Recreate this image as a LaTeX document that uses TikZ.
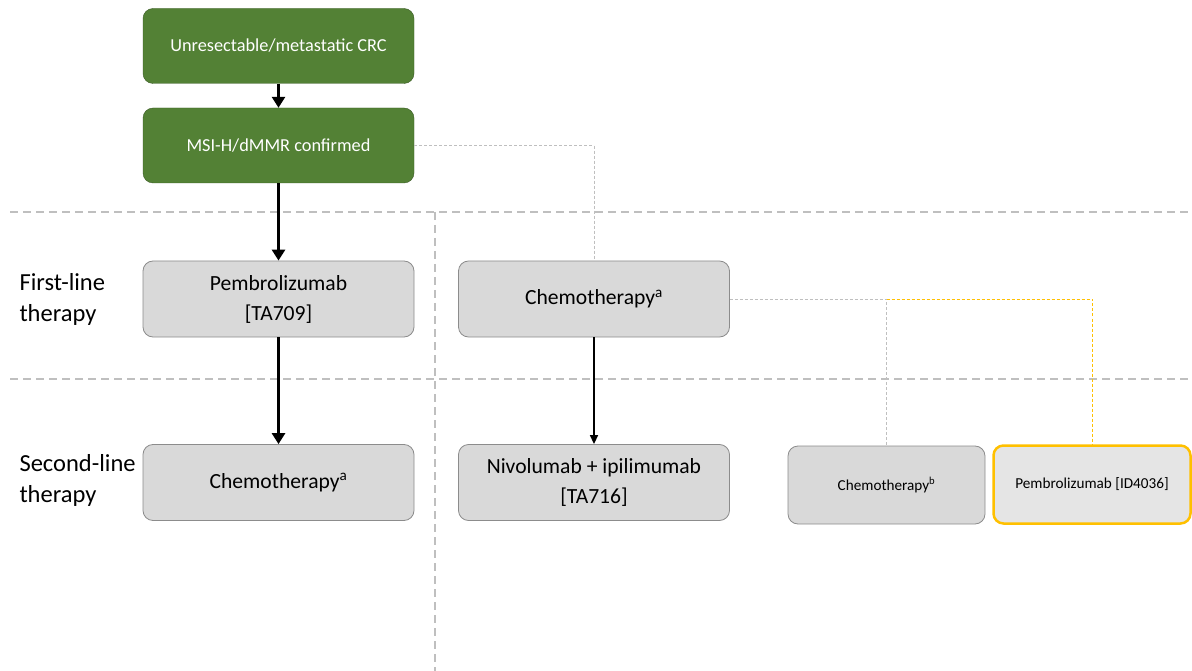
\documentclass[tikz,border=0pt]{standalone}
\usepackage{fontspec}
\setmainfont{Carlito}
\usetikzlibrary{arrows.meta,positioning}
\definecolor{crcgreen}{HTML}{538135}
\definecolor{boxgray}{HTML}{D9D9D9}
\definecolor{boxedge}{HTML}{8C8C8C}
\definecolor{lightline}{HTML}{BFBFBF}
\definecolor{ambre}{HTML}{FFC000}
\begin{document}
\begin{tikzpicture}[x=1pt,y=-1pt,
    greenbox/.style={draw=crcgreen!70!black,fill=crcgreen,rounded corners=10pt,
        minimum width=271pt,minimum height=75pt,text=white,font=\fontsize{18.3}{22}\selectfont},
    graybox/.style={draw=boxedge,fill=boxgray,rounded corners=10pt,line width=0.8pt,
        minimum width=271pt,minimum height=76pt,align=center,font=\fontsize{21.6}{30}\selectfont},
    smallbox/.style={draw=boxedge,fill=boxgray,rounded corners=10pt,line width=0.8pt,
        minimum width=197pt,minimum height=78pt,font=\fontsize{15.2}{18}\selectfont},
    linelabel/.style={anchor=west,align=left,font=\fontsize{24.5}{31}\selectfont},
    bigarrow/.style={-{Triangle[length=11pt,width=13pt]},line width=3.5pt},
    thinarrow/.style={-{Triangle[length=9pt,width=8pt]},line width=1.5pt},
    divider/.style={lightline,line width=1.5pt,dash pattern=on 8pt off 5pt},
    link/.style={lightline,line width=1pt,dash pattern=on 3pt off 2pt}]

\useasboundingbox (0,0) rectangle (1192,671);

% row dividers
\draw[divider](10,212) -- (1192,212);
\draw[divider](10,379) -- (1192,379);
\draw[divider](435,212) -- (435,671);

% left labels
\node[linelabel] (first) at (16,299) {First-line\\therapy};
\node[linelabel] (second) at (16,480) {Second-line\\therapy};

% green boxes
\node[greenbox] (crc) at (278.5,46) {Unresectable/metastatic CRC};
\node[greenbox] (msi) at (278.5,145.5) {MSI-H/dMMR confirmed};

% grey boxes
\node[graybox] (pembro) at (278.5,299) {Pembrolizumab\\{[TA709]}};
\node[graybox] (chemoA) at (278.5,482.5) {Chemotherapy\textsuperscript{a}};
\node[graybox] (chemoB) at (594,299) {Chemotherapy\textsuperscript{a}};
\node[graybox] (nivo) at (594,482.5) {Nivolumab + ipilimumab\\{[TA716]}};
\node[smallbox] (chemoC) at (886.5,485) {Chemotherapy\textsuperscript{b}};
\node[smallbox,draw=ambre,line width=2.5pt,fill=black!10] (pembroID) at (1092,484.5) {Pembrolizumab [ID4036]};

% arrows
\draw[bigarrow](crc) -- (msi);
\draw[bigarrow](msi) -- (pembro);
\draw[bigarrow](pembro) -- (chemoA);
\draw[thinarrow](chemoB) -- (nivo);

% dashed links
\coordinate (split) at (chemoC.north |- chemoB.east);
\draw[link](msi.east) -| (chemoB.north);
\draw[link](chemoB.east) -- (split) -- (chemoC.north);
\draw[link,ambre](split) -| (pembroID.north);

\end{tikzpicture}
\end{document}
